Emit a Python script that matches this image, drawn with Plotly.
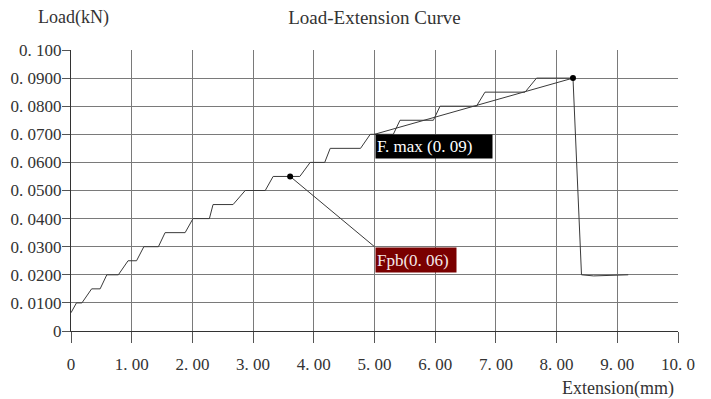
import plotly.graph_objects as go

# Load-extension curve data
extension = [0, 0.09, 0.18, 0.34, 0.48, 0.59, 0.78, 0.94, 1.08, 1.20, 1.44, 1.55, 1.88, 2.01,
             2.28, 2.34, 2.67, 2.87, 3.20, 3.33, 3.77, 3.94, 4.18, 4.27, 4.77, 4.93, 5.31,
             5.42, 5.97, 6.08, 6.68, 6.82, 7.48, 7.67, 8.27, 8.41, 8.61, 9.18]
load = [0.0065, 0.010, 0.010, 0.015, 0.015, 0.020, 0.020, 0.025, 0.025, 0.030, 0.030, 0.035,
        0.035, 0.040, 0.040, 0.045, 0.045, 0.050, 0.050, 0.055, 0.055, 0.060, 0.060, 0.065,
        0.065, 0.070, 0.070, 0.075, 0.075, 0.080, 0.080, 0.085, 0.085, 0.090, 0.090, 0.020,
        0.0196, 0.020]

# Marked points
fpb_point = (3.61, 0.055)
fmax_point = (8.27, 0.090)
fpb_label = "Fpb(0. 06)"
fmax_label = "F. max (0. 09)"
label_anchor_fmax = (5.0, 0.070)
label_anchor_fpb = (5.0, 0.030)

x_tickvals = [0, 1, 2, 3, 4, 5, 6, 7, 8, 9, 10]
x_ticktext = ["0", "1. 00", "2. 00", "3. 00", "4. 00", "5. 00", "6. 00", "7. 00", "8. 00", "9. 00", "10. 0"]
y_tickvals = [0, 0.01, 0.02, 0.03, 0.04, 0.05, 0.06, 0.07, 0.08, 0.09, 0.10]
y_ticktext = ["0", "0. 0100", "0. 0200", "0. 0300", "0. 0400", "0. 0500", "0. 0600",
              "0. 0700", "0. 0800", "0. 0900", "0. 100"]

FONT = "Liberation Serif"
TXT = "#333333"
GRID = "#7a7a7a"

fig = go.Figure()

fig.add_trace(go.Scatter(x=extension, y=load, mode="lines",
                         line=dict(color="#3a3a3a", width=1), hoverinfo="skip", showlegend=False))

# connector lines
fig.add_trace(go.Scatter(x=[fmax_point[0], label_anchor_fmax[0]], y=[fmax_point[1], label_anchor_fmax[1]],
                         mode="lines", line=dict(color="#3a3a3a", width=1), showlegend=False))
fig.add_trace(go.Scatter(x=[fpb_point[0], label_anchor_fpb[0]], y=[fpb_point[1], label_anchor_fpb[1]],
                         mode="lines", line=dict(color="#3a3a3a", width=1), showlegend=False))

fig.add_trace(go.Scatter(x=[fpb_point[0], fmax_point[0]], y=[fpb_point[1], fmax_point[1]],
                         mode="markers", marker=dict(color="black", size=6), showlegend=False))

fig.add_annotation(x=label_anchor_fmax[0], y=label_anchor_fmax[1], xref="x", yref="y",
                   text=fmax_label, showarrow=False, xanchor="left", yanchor="top",
                   bgcolor="black", font=dict(family=FONT, size=17, color="white"),
                   width=114, height=21, align="left", borderpad=1)
fig.add_annotation(x=label_anchor_fpb[0], y=label_anchor_fpb[1], xref="x", yref="y",
                   text=fpb_label, showarrow=False, xanchor="left", yanchor="top",
                   bgcolor="#7a0000", font=dict(family=FONT, size=17, color="#f4e8e8"),
                   width=78, height=22, align="left", borderpad=1)

fig.add_annotation(x=-0.0577, y=1.117, xref="paper", yref="paper", text="Load(kN)",
                   showarrow=False, xanchor="left", yanchor="middle",
                   font=dict(family=FONT, size=18, color=TXT))
fig.add_annotation(x=0.997, y=-0.203, xref="paper", yref="paper", text="Extension(mm)",
                   showarrow=False, xanchor="right", yanchor="middle",
                   font=dict(family=FONT, size=18, color=TXT))

fig.update_layout(
    width=703, height=391,
    margin=dict(l=63, r=33, t=42, b=68),
    paper_bgcolor="white", plot_bgcolor="white",
    title=dict(text="Load-Extension Curve", x=0.5213, xanchor="center", y=0.977, yanchor="middle",
               font=dict(family=FONT, size=19, color=TXT), automargin=False),
    font=dict(family=FONT, size=17, color=TXT),
)
fig.update_xaxes(range=[0, 10], tickvals=x_tickvals, ticktext=x_ticktext, automargin=False,
                 showgrid=True, gridcolor=GRID, gridwidth=1, zeroline=False,
                 showline=True, linecolor="#333333", linewidth=1, mirror=False,
                 ticks="outside", ticklen=11, tickcolor="#555555", ticklabelstandoff=7,
                 tickfont=dict(family=FONT, size=17, color=TXT))
fig.update_yaxes(range=[0, 0.1], tickvals=y_tickvals, ticktext=y_ticktext, automargin=False,
                 showgrid=True, gridcolor=GRID, gridwidth=1, zeroline=False,
                 showline=True, linecolor="#333333", linewidth=1, mirror=False,
                 ticks="outside", ticklen=8, tickcolor="#555555", ticklabelstandoff=-3,
                 tickfont=dict(family=FONT, size=17, color=TXT))

fig.write_html("out.html")
